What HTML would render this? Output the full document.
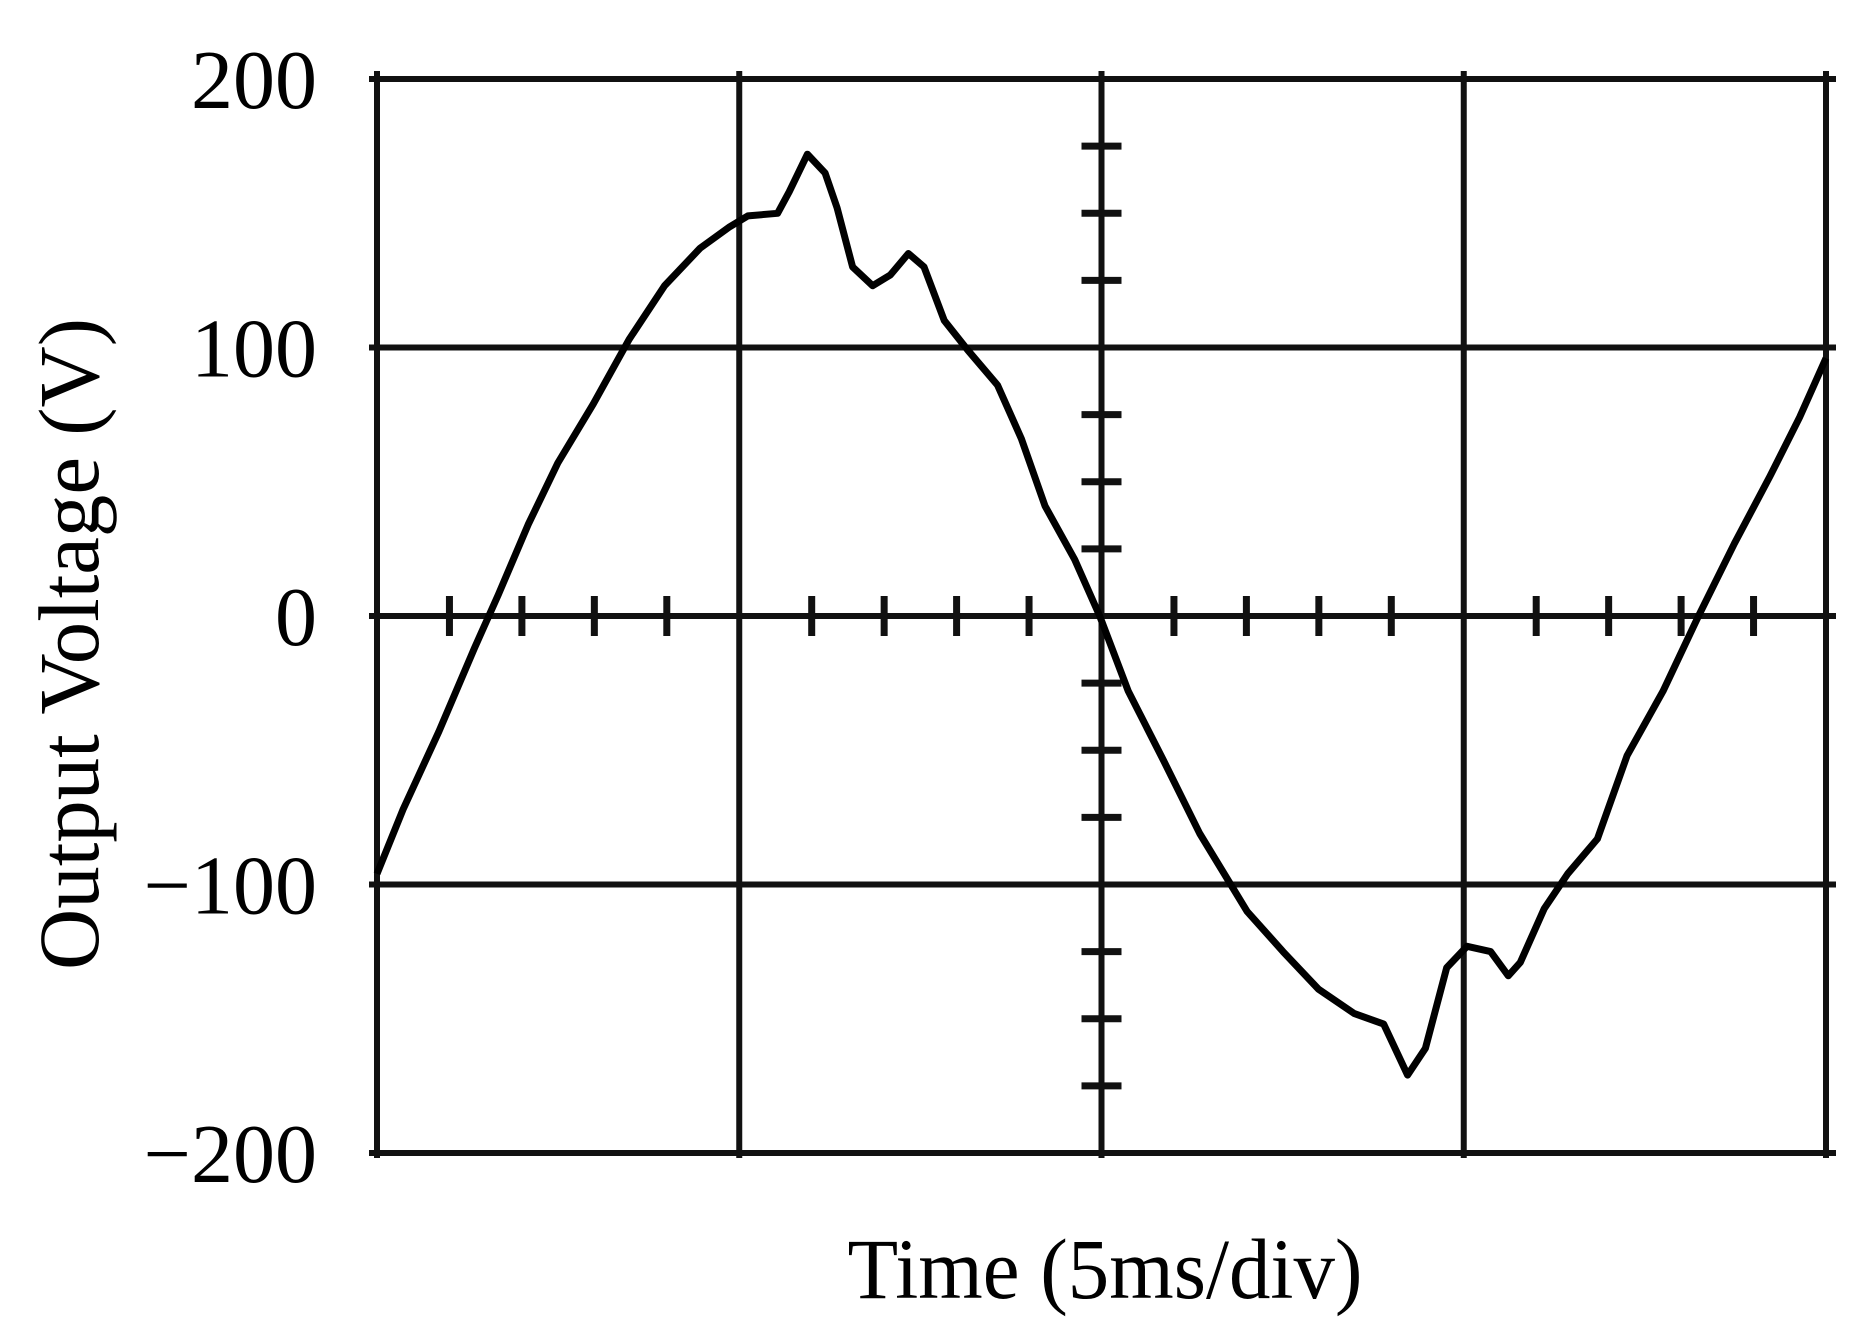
<!DOCTYPE html>
<html><head><meta charset="utf-8"><style>
html,body{margin:0;padding:0;background:#fff;}
svg{display:block;}
text{font-family:"Liberation Serif",serif;fill:#000;}
</style></head><body>
<svg id="chart" width="1866" height="1323">
<g id="grid"></g>
<g id="ticks"></g>
<g id="ylabels"></g>
<path id="trace" fill="none" stroke="#000" stroke-width="7" stroke-linejoin="round"/>
<text x="0" y="0" font-size="86" text-anchor="middle" transform="translate(98,644) rotate(-90)" textLength="652" lengthAdjust="spacingAndGlyphs">Output Voltage (V)</text>
<text x="1105" y="1298" font-size="86" text-anchor="middle" textLength="515" lengthAdjust="spacingAndGlyphs">Time (5ms/div)</text>
</svg>
<script>
const yTicks=[200,100,0,-100,-200];
const yTickLabels=["200","100","0","\u2212100","\u2212200"];
const times=[0,0.072,0.171,0.269,0.335,0.417,0.499,0.597,0.696,0.794,0.892,0.974,1.024,1.106,1.138,1.188,1.237,1.270,1.313,1.368,1.417,1.467,1.510,1.566,1.631,1.713,1.779,1.844,1.926,1.995,2.074,2.172,2.271,2.402,2.501,2.599,2.697,2.779,2.845,2.894,2.953,3.009,3.074,3.123,3.156,3.222,3.287,3.369,3.451,3.550,3.648,3.747,3.845,3.927,4.0];
const volts=[-96,-72,-43,-12,8,34,57,79,103,123,137,145,149,150,158,172,165,152,130,123,127,135,130,110,99,86,66,41,21,0,-28,-54,-81,-110,-125,-139,-148,-152,-171,-161,-131,-123,-125,-134,-129,-109,-96,-83,-52,-28,0,27,52,74,96];
const X0=377,X1=1826,Y0=79,Y1=1153;
const xs=t=>X0+(X1-X0)*t/4;
const ys=v=>Y0+(Y1-Y0)*(200-v)/400;
const NS="http://www.w3.org/2000/svg";
function mk(tag,at,parent){const e=document.createElementNS(NS,tag);for(const k in at)e.setAttribute(k,at[k]);parent.appendChild(e);return e;}
const grid=document.getElementById('grid');
for(let i=0;i<=4;i++){
  const l=mk('line',{x1:xs(i),x2:xs(i),y1:Y0-8,y2:Y1+5,stroke:'#111','stroke-width':6},grid);
  
  
}
yTicks.forEach((v,i)=>{
  const l=mk('line',{x1:X0-8,x2:X1+10,y1:ys(v),y2:ys(v),stroke:'#111','stroke-width':6},grid);
  
  
  const t=mk('text',{x:317,y:ys(v)+29,'font-size':84,'text-anchor':'end'},document.getElementById('ylabels'));
  t.textContent=yTickLabels[i];
  
  
});
const tk=document.getElementById('ticks');
for(let k=1;k<20;k++){
  if(k%5===0)continue;
  const x=xs(k/5);
  const a=mk('line',{x1:x,x2:x,y1:ys(0)-20,y2:ys(0)+20,stroke:'#111','stroke-width':7},tk);
  
  
}
for(let k=1;k<16;k++){
  if(k%4===0)continue;
  const y=Y0+(Y1-Y0)*k/16;
  const b=mk('line',{x1:xs(2)-20,x2:xs(2)+20,y1:y,y2:y,stroke:'#111','stroke-width':7},tk);
  
  
}
document.getElementById('trace').setAttribute('d',times.map((t,i)=>(i?'L':'M')+xs(t).toFixed(1)+' '+ys(volts[i]).toFixed(1)).join(' '));
</script>
</body></html>
